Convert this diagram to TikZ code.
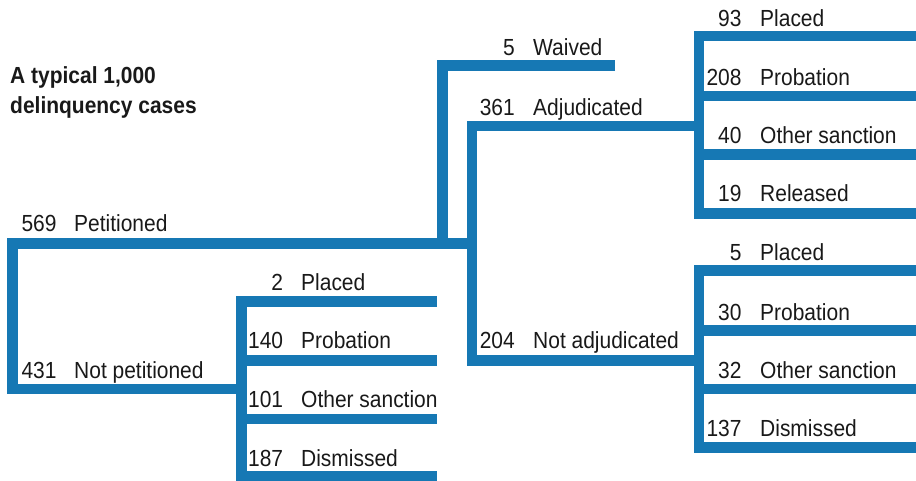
\documentclass[tikz,border=0pt]{standalone}
\usepackage{fontspec}
\setmainfont{Liberation Sans}[FakeStretch=0.9]
\definecolor{branch}{RGB}{22,120,180}
\definecolor{ink}{RGB}{25,25,25}
\begin{document}
\begin{tikzpicture}[x=1pt,y=-1pt,
  branchline/.style={draw=branch,line width=10.7pt,line join=miter,line cap=butt},
  num/.style={anchor=base east,inner sep=0pt,text=ink,font=\fontsize{23.3}{28}\selectfont},
  lab/.style={anchor=base west,inner sep=0pt,text=ink,font=\fontsize{23.3}{28}\selectfont},
  ttl/.style={anchor=base west,inner sep=0pt,text=ink,font=\fontsize{23.3}{28}\selectfont\bfseries}]
\useasboundingbox (0,0) rectangle (916,480);

% --- coordinates of the branches
\coordinate (root) at (12.3,243.7);
\coordinate (petE) at (472,243.7);
\coordinate (npBend) at (12.3,389);
\coordinate (npE) at (241.5,389);
\coordinate (wvBot) at (442.7,243.7);
\coordinate (wvTop) at (442.7,65.3);
\coordinate (wvE) at (615,65.3);
\coordinate (adTop) at (472,126);
\coordinate (adE) at (699,126);
\coordinate (naBot) at (472,360.3);
\coordinate (naE) at (699,360.3);

% left sub-tree (not petitioned)
\coordinate (lp1) at (241.5,301.7); \coordinate (lp1e) at (436.7,301.7);
\coordinate (lp2) at (241.5,360.3); \coordinate (lp2e) at (436.7,360.3);
\coordinate (lp3) at (241.5,419);   \coordinate (lp3e) at (436.7,419);
\coordinate (lp4) at (241.5,476);   \coordinate (lp4e) at (436.7,476);

% right top sub-tree (adjudicated)
\coordinate (ra1) at (699,36);    \coordinate (ra1e) at (916,36);
\coordinate (ra2) at (699,96);    \coordinate (ra2e) at (916,96);
\coordinate (ra3) at (699,154.5); \coordinate (ra3e) at (916,154.5);
\coordinate (ra4) at (699,213.3); \coordinate (ra4e) at (916,213.3);

% right bottom sub-tree (not adjudicated)
\coordinate (rn1) at (699,270.3); \coordinate (rn1e) at (916,270.3);
\coordinate (rn2) at (699,330.3); \coordinate (rn2e) at (916,330.3);
\coordinate (rn3) at (699,389);   \coordinate (rn3e) at (916,389);
\coordinate (rn4) at (699,447.3); \coordinate (rn4e) at (916,447.3);

% --- branches
\draw[branchline] (wvE) -- (wvTop) -- (wvBot);
\draw[branchline] (adE) -- (adTop) -- (naBot) -- (naE);
\draw[branchline] (petE) -- (root) -- (npBend) -- (npE);

\draw[branchline] (lp1e) -- (lp1) -- (lp4) -- (lp4e);
\draw[branchline] (lp2) -- (lp2e);
\draw[branchline] (lp3) -- (lp3e);

\draw[branchline] (ra1e) -- (ra1) -- (ra4) -- (ra4e);
\draw[branchline] (ra2) -- (ra2e);
\draw[branchline] (ra3) -- (ra3e);

\draw[branchline] (rn1e) -- (rn1) -- (rn4) -- (rn4e);
\draw[branchline] (rn2) -- (rn2e);
\draw[branchline] (rn3) -- (rn3e);

% --- title
\node[ttl] (title1) at (10,83.3) {A typical 1,000};
\node[ttl] (title2) at (10,113.3) {delinquency cases};

% --- labels
\node[num] (n569) at (56.7,231.7) {569};  \node[lab] (l569) at (74,231.7) {Petitioned};
\node[num] (n431) at (56.7,378.3) {431};  \node[lab] (l431) at (74,378.3) {Not petitioned};

\node[num] (n2)   at (283.3,290.7) {2};   \node[lab] (l2)   at (301,290.7) {Placed};
\node[num] (n140) at (283.3,348.8) {140}; \node[lab] (l140) at (301,348.8) {Probation};
\node[num] (n101) at (283.3,407.8) {101}; \node[lab] (l101) at (301,407.8) {Other sanction};
\node[num] (n187) at (283.3,466.5) {187}; \node[lab] (l187) at (301,466.5) {Dismissed};

\node[num] (n5w)  at (515,55)    {5};     \node[lab] (l5w)  at (533,55)    {Waived};
\node[num] (n361) at (515,115)   {361};   \node[lab] (l361) at (533,115)   {Adjudicated};
\node[num] (n204) at (515,348.3) {204};   \node[lab] (l204) at (533,348.3) {Not adjudicated};

\node[num] (n93)  at (741.7,26.7)  {93};  \node[lab] (l93)  at (760,26.7)  {Placed};
\node[num] (n208) at (741.7,85)    {208}; \node[lab] (l208) at (760,85)    {Probation};
\node[num] (n40)  at (741.7,143.3) {40};  \node[lab] (l40)  at (760,143.3) {Other sanction};
\node[num] (n19)  at (741.7,201.7) {19};  \node[lab] (l19)  at (760,201.7) {Released};

\node[num] (n5p)  at (741.7,260.7) {5};   \node[lab] (l5p)  at (760,260.7) {Placed};
\node[num] (n30)  at (741.7,320)   {30};  \node[lab] (l30)  at (760,320)   {Probation};
\node[num] (n32)  at (741.7,378.3) {32};  \node[lab] (l32)  at (760,378.3) {Other sanction};
\node[num] (n137) at (741.7,436.7) {137}; \node[lab] (l137) at (760,436.7) {Dismissed};
\end{tikzpicture}
\end{document}
